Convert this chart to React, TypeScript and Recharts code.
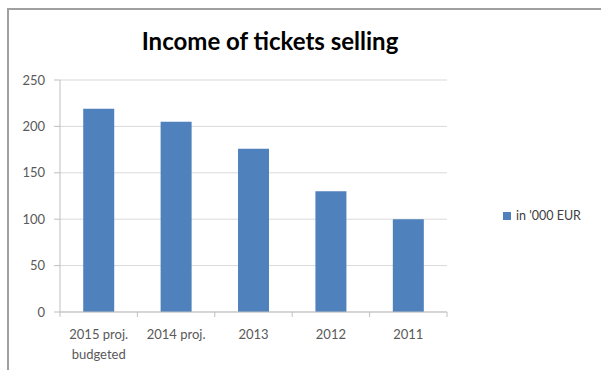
import React from 'react';
import { BarChart, Bar, XAxis, YAxis, CartesianGrid, Legend } from 'recharts';

const categories = ['2015 proj.\nbudgeted', '2014 proj.', '2013', '2012', '2011'];
const incomeValues = [219, 205, 176, 130, 100];
const yTicks = [0, 50, 100, 150, 200, 250];
const seriesName = "in '000 EUR";
const chartTitle = 'Income of tickets selling';

const data = categories.map((c, i) => ({ name: c, value: incomeValues[i] }));

const FONT = 'Lato, "Open Sans", sans-serif';
const BAR_COLOR = '#4f81bd';
const AXIS_COLOR = '#bfbfbf';
const TEXT_COLOR = '#595959';

const CategoryTick = (props: any) => {
  const { x, y, payload, index, visibleTicksCount } = props;
  const off = payload && typeof payload.offset === 'number' ? payload.offset : 0;
  const lines = String(payload.value).split('\n');
  const isLast = index === visibleTicksCount - 1;
  return (
    <g>
      <line x1={x - off} x2={x - off} y1={y} y2={y + 5} stroke={AXIS_COLOR} />
      {isLast && <line x1={x + off} x2={x + off} y1={y} y2={y + 5} stroke={AXIS_COLOR} />}
      {lines.map((ln, i) => (
        <text
          key={i}
          x={x}
          y={y + 27 + i * 20}
          textAnchor="middle"
          fill={TEXT_COLOR}
          fontSize={13}
          fontFamily={FONT}
        >
          {ln}
        </text>
      ))}
    </g>
  );
};

const LegendContent = () => (
  <div style={{ display: 'flex', alignItems: 'center', fontFamily: FONT, fontSize: 12.5, color: '#404040', whiteSpace: 'nowrap' }}>
    <span style={{ display: 'inline-block', width: 8, height: 8, background: BAR_COLOR, marginRight: 5 }} />
    <span>{seriesName}</span>
  </div>
);

export default function App() {
  return (
    <div style={{ position: 'absolute', left: 0, top: 0, width: 601, height: 370, overflow: 'hidden', background: '#fff' }}>
      <div
        style={{
          position: 'absolute',
          left: 7,
          top: 8,
          width: 594,
          height: 362,
          borderLeft: '2px solid #a0a0a0',
          borderTop: '2px solid #a0a0a0',
          boxSizing: 'border-box',
        }}
      />
      <div
        style={{
          position: 'absolute',
          left: 0,
          top: 26,
          width: 540,
          textAlign: 'center',
          fontFamily: FONT,
          fontWeight: 700,
          fontSize: 24,
          lineHeight: 'normal',
          color: '#000',
        }}
      >
        {chartTitle}
      </div>
      <div style={{ position: 'absolute', left: 0, top: 0 }}>
        <BarChart
          width={601}
          height={370}
          data={data}
          margin={{ top: 80, right: 54, bottom: 0, left: 0 }}
          barCategoryGap="30%"
        >
          <CartesianGrid horizontal vertical={false} stroke="#d9d9d9" />
          <XAxis
            dataKey="name"
            height={58}
            axisLine={{ stroke: AXIS_COLOR }}
            tickLine={false}
            tickSize={0}
            tickMargin={0}
            interval={0}
            tick={<CategoryTick />}
          />
          <YAxis
            width={60}
            domain={[0, 250]}
            ticks={yTicks}
            axisLine={{ stroke: AXIS_COLOR }}
            tickLine={{ stroke: AXIS_COLOR }}
            tickSize={6}
            tickMargin={9}
            tick={{ fill: TEXT_COLOR, fontSize: 13, fontFamily: FONT }}
          />
          <Legend
            layout="vertical"
            align="right"
            verticalAlign="middle"
            width={100}
            content={<LegendContent />}
            wrapperStyle={{ left: 503, top: 208, right: 'auto' }}
          />
          <Bar dataKey="value" name={seriesName} fill={BAR_COLOR} isAnimationActive={false} />
        </BarChart>
      </div>
    </div>
  );
}
